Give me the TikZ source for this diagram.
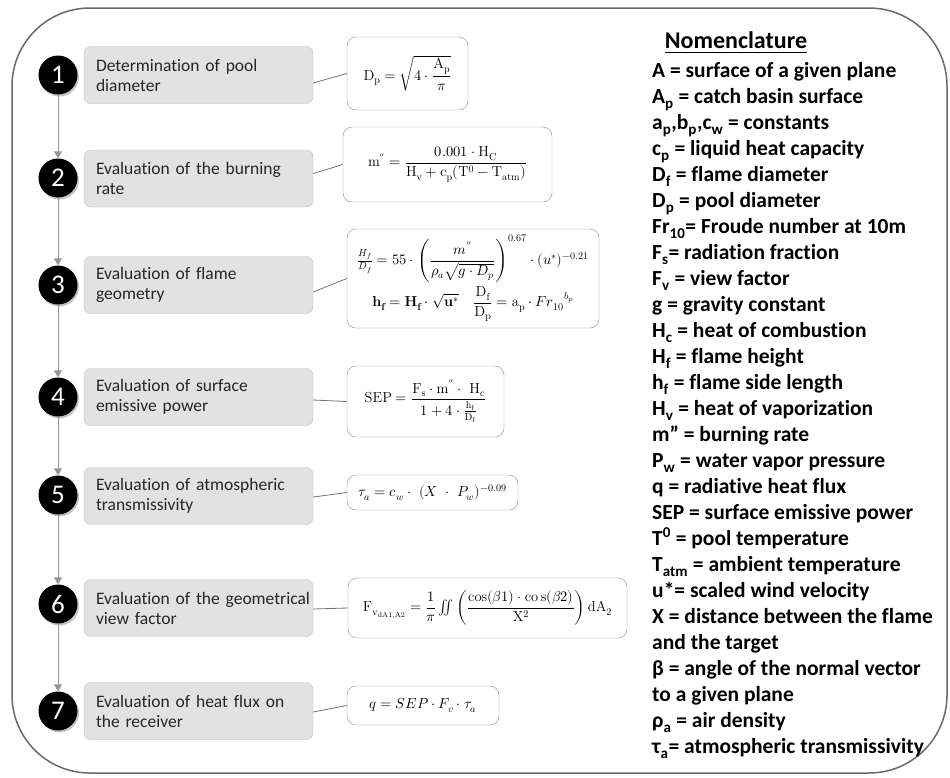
\documentclass[tikz,border=0pt]{standalone}
\usepackage{amsmath}
\usepackage{fontspec}
\usepackage{unicode-math}
\setmathfont{Latin Modern Math}
\newfontfamily\calibri[Ligatures=NoCommon]{Carlito}
\usetikzlibrary{arrows.meta,shadows}
\definecolor{boxgray}{RGB}{226,226,226}
\definecolor{edgegray}{RGB}{190,190,190}
\definecolor{linegray}{RGB}{150,150,150}
\definecolor{framegray}{RGB}{105,105,105}
\tikzset{stepnum/.style={circle,fill=black,inner sep=0,minimum size=39pt,text=white,
  font=\calibri\fontsize{27}{27}\selectfont,
  drop shadow={shadow xshift=1.5pt,shadow yshift=-2pt,opacity=0.45}}}
\tikzset{stepbox/.style={rounded corners=7pt,draw=edgegray,fill=boxgray,
  minimum height=57pt,text width=205pt,inner xsep=12pt,align=left,
  text=black!85,font=\calibri\fontsize{17.5}{20}\selectfont}}
\tikzset{eqbox/.style={rounded corners=9pt,draw=black!45,fill=white,inner sep=0,
  font=\fontsize{14.5}{17}\selectfont}}
\tikzset{flow/.style={draw=linegray,line width=1pt,-{Triangle[length=7pt,width=8pt]}}}
\tikzset{link/.style={draw=black!55,line width=0.8pt}}

\begin{document}
\begin{tikzpicture}[x=1pt,y=-1pt]
\useasboundingbox (0,0) rectangle (950,777);
\draw[framegray,line width=1.5pt,rounded corners=78pt] (12,8) rectangle (947,773);

\node[stepnum] (n1) at (58,75) {1};
\node[stepnum] (n2) at (58,178) {2};
\node[stepnum] (n3) at (58,285) {3};
\node[stepnum] (n4) at (58,397) {4};
\node[stepnum] (n5) at (58,495) {5};
\node[stepnum] (n6) at (58,604) {6};
\node[stepnum] (n7) at (58,711) {7};

\node[stepbox] (s1) at (198.5,75) {Determination of pool\\diameter};
\node[stepbox] (s2) at (198.5,178.5) {Evaluation of the burning\\rate};
\node[stepbox] (s3) at (198.5,285) {Evaluation of flame\\geometry};
\node[stepbox] (s4) at (198.5,397) {Evaluation of surface\\emissive power};
\node[stepbox] (s5) at (198.5,496) {Evaluation of atmospheric\\transmissivity};
\node[stepbox] (s6) at (198.5,608) {\mbox{Evaluation of the geometrical}\\view factor};
\node[stepbox] (s7) at (198.5,711) {Evaluation of heat flux on\\the receiver};

\node[eqbox,minimum width=121pt,minimum height=73pt] (e1) at (407.5,73.5)
  {$\mathrm{D_p}=\sqrt{4\cdot\dfrac{\mathrm{A_p}}{\pi}}$};
\node[eqbox,minimum width=209pt,minimum height=75pt] (e2) at (447.5,164.5)
  {$\mathrm{m''}=\dfrac{0.001\cdot\mathrm{H_C}}{\mathrm{H_v}+\mathrm{c_p}(\mathrm{T^0}-\mathrm{T_{atm}})}$};
\node[eqbox,minimum width=252pt,minimum height=99pt,align=center] (e3) at (473,278.5)
  {$\frac{H_f}{D_f}=55\cdot\left(\dfrac{m''}{\rho_a\sqrt{g\cdot D_p}}\right)^{0.67}\cdot(u^*)^{-0.21}$\\[3pt]
   $\mathbf{h_f}=\mathbf{H_f}\cdot\sqrt{\mathbf{u^*}}\quad\dfrac{\mathrm{D_f}}{\mathrm{D_p}}=\mathrm{a_p}\cdot {Fr_{10}}^{b_p}$};
\node[eqbox,minimum width=157pt,minimum height=71pt] (e4) at (425.5,401.5)
  {$\mathrm{SEP}=\dfrac{\mathrm{F_s}\cdot\mathrm{m''}\cdot\ \mathrm{H_c}}{1+4\cdot\frac{\mathrm{h_f}}{\mathrm{D_f}}}$};
\node[eqbox,minimum width=171pt,minimum height=35pt] (e5) at (432.5,492.5)
  {$\tau_a=c_w\cdot\ (X\ \cdot\ P_w)^{-0.09}$};
\node[eqbox,minimum width=279pt,minimum height=60pt] (e6) at (487.5,608)
  {$\mathrm{F_{v_{dA1,A2}}}=\dfrac{1}{\pi}\iint\left(\dfrac{\cos(\beta 1)\cdot\mathrm{co\,s}(\beta 2)}{\mathrm{X^2}}\right)\mathrm{dA_2}$};
\node[eqbox,minimum width=152pt,minimum height=39pt] (e7) at (423,705.5)
  {$q=SEP\cdot F_v\cdot\tau_a$};

\foreach \a/\b in {n1/n2,n2/n3,n3/n4,n4/n5,n5/n6,n6/n7}
  \draw[flow] (\a) -- (\b);
\foreach \i/\d in {1/8,2/-5,3/7,4/3,5/1,6/1,7/1}
  \draw[link] ([yshift=-\d pt]s\i.east) -- (e\i.west);

% nomenclature
\node[font=\calibri\bfseries\fontsize{24}{26}\selectfont] (nomtitle) at (736,43) {\underline{Nomenclature}};
\node[anchor=north west,inner sep=0,align=left,font=\calibri\bfseries\fontsize{21.5}{26}\selectfont] (nomlist) at (652,62)
  {A = surface of a given plane\\
   A\textsubscript{p} = catch basin surface\\
   a\textsubscript{p},b\textsubscript{p},c\textsubscript{w} = constants\\
   c\textsubscript{p} = liquid heat capacity\\
   D\textsubscript{f} = flame diameter\\
   D\textsubscript{p} = pool diameter\\
   Fr\textsubscript{10}= Froude number at 10m\\
   F\textsubscript{s}= radiation fraction\\
   F\textsubscript{v} = view factor\\
   g = gravity constant\\
   H\textsubscript{c} = heat of combustion\\
   H\textsubscript{f} = flame height\\
   h\textsubscript{f} = flame side length\\
   H\textsubscript{v} = heat of vaporization\\
   m” = burning rate\\
   P\textsubscript{w} = water vapor pressure\\
   q = radiative heat flux\\
   SEP = surface emissive power\\
   T\textsuperscript{0} = pool temperature\\
   T\textsubscript{atm} = ambient temperature\\
   u*= scaled wind velocity\\
   X = distance between the flame\\
   and the target\\
   β = angle of the normal vector\\
   to a given plane\\
   ρ\textsubscript{a} = air density\\
   τ\textsubscript{a}= atmospheric transmissivity};

\end{tikzpicture}
\end{document}
